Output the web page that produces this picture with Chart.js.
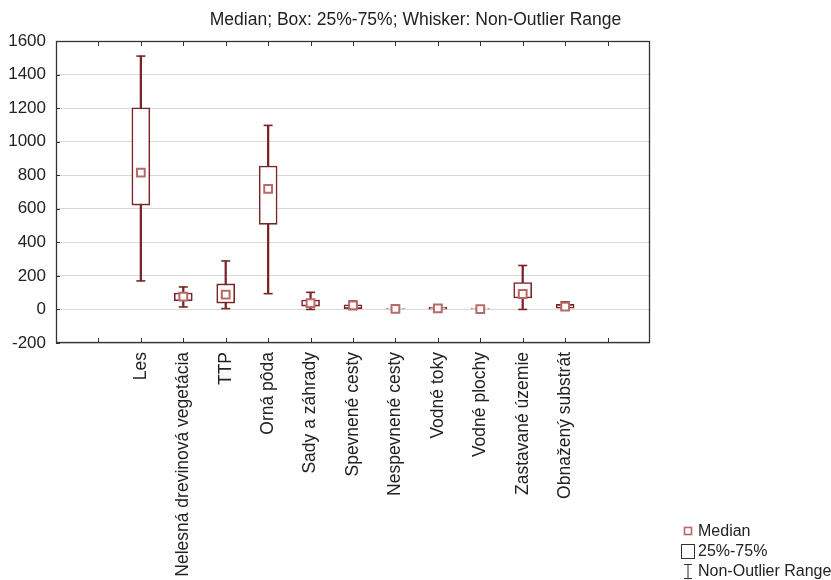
<!DOCTYPE html>
<html>
<head>
<meta charset="utf-8">
<script src="https://cdn.jsdelivr.net/npm/chart.js@4.4.1/dist/chart.umd.min.js"></script>
<style>
  html, body { margin: 0; padding: 0; background: #fff; }
  #wrap { position: relative; width: 831px; height: 580px; overflow: hidden; }
  #legend { position: absolute; left: 680px; top: 521px; font-family: 'Liberation Sans', Arial, sans-serif; font-size: 16px; color: #222; }
  .row { position: relative; height: 20px; line-height: 20px; padding-left: 18px; white-space: nowrap; }
  .ico { position: absolute; left: 0; top: 0; width: 16px; height: 20px; }
</style>
</head>
<body>
<div id="wrap">
  <canvas id="c" width="831" height="580"></canvas>
  <div id="legend">
    <div class="row"><svg class="ico" viewBox="0 0 16 20"><rect x="4.5" y="6.5" width="7" height="7" fill="#fff" stroke="#b86a6a" stroke-width="1.6"/></svg>Median</div>
    <div class="row"><svg class="ico" viewBox="0 0 16 20"><rect x="1.5" y="3.5" width="13" height="14" fill="#fff" stroke="#333" stroke-width="1"/></svg>25%-75%</div>
    <div class="row"><svg class="ico" viewBox="0 0 16 20"><path d="M4 3.5H12M8 3.5V17.5M4 17.5H12" fill="none" stroke="#333" stroke-width="1"/></svg>Non-Outlier Range</div>
  </div>
</div>
<script>
const titleText = 'Median; Box: 25%-75%; Whisker: Non-Outlier Range';
const categories = ['Les', 'Nelesná drevinová vegetácia', 'TTP', 'Orná pôda', 'Sady a záhrady',
  'Spevnené cesty', 'Nespevnené cesty', 'Vodné toky', 'Vodné plochy', 'Zastavané územie', 'Obnažený substrát'];
const medians   = [815, 76, 88, 718, 38, 24, 4, 7, 2, 92, 17];
const q1        = [622, 52, 38, 507, 20, 5, 0, 2, 0, 68, 7];
const q3        = [1202, 98, 152, 855, 56, 28, 5, 14, 5, 160, 30];
const whiskMin  = [170, 15, 5, 94, 0, 0, 0, 0, 0, 0, 0];
const whiskMax  = [1510, 134, 289, 1097, 102, 50, 10, 25, 8, 262, 45];
const yTicks    = { min: -200, max: 1600, step: 200 };

const pad = arr => [null, null, ...arr, null, null];
const labels = pad(categories).map(v => v === null ? '' : v);

const boxColor = '#7b2426';
const medColor = '#b86a6a';
const font = "'Liberation Sans', Arial, sans-serif";

const framePlugin = {
  id: 'frame',
  afterDraw(chart) {
    const { ctx, chartArea: a, scales: { x, y } } = chart;
    ctx.save();
    ctx.strokeStyle = '#333';
    ctx.lineWidth = 1;
    ctx.beginPath();
    for (let i = 1; i < labels.length - 1; i++) {
      const px = Math.round(x.getPixelForTick(i)) + 0.5;
      ctx.moveTo(px, a.top); ctx.lineTo(px, a.top + 5);
      ctx.moveTo(px, a.bottom); ctx.lineTo(px, a.bottom - 5);
    }
    y.ticks.forEach((t, i) => {
      const py = Math.round(y.getPixelForTick(i)) + 0.5;
      ctx.moveTo(a.left, py); ctx.lineTo(a.left + 4, py);
    });
    ctx.stroke();
    ctx.lineWidth = 1.3;
    ctx.strokeRect(Math.round(a.left) + 0.5, Math.round(a.top) + 0.5,
      Math.round(a.right - a.left) - 1, Math.round(a.bottom - a.top) - 1);
    ctx.restore();
  }
};

new Chart(document.getElementById('c'), {
  type: 'bar',
  data: {
    labels,
    datasets: [
      { label: 'Median', type: 'line', showLine: false, data: pad(medians),
        pointStyle: 'rect', pointRadius: 5.5, pointBorderWidth: 2,
        pointBorderColor: medColor, pointBackgroundColor: '#fff', order: 0 },
      { label: 'Max', type: 'line', showLine: false, data: pad(whiskMax),
        pointStyle: 'line', pointRadius: 4.5, pointBorderWidth: 1.6,
        pointBorderColor: boxColor, order: 1 },
      { label: 'Min', type: 'line', showLine: false, data: pad(whiskMin),
        pointStyle: 'line', pointRadius: 4.5, pointBorderWidth: 1.6,
        pointBorderColor: boxColor, order: 1 },
      { label: '25%-75%', data: pad(q1.map((v, i) => [v, q3[i]])),
        backgroundColor: '#fff', borderColor: boxColor, borderWidth: 1.6,
        borderSkipped: false, barThickness: 18, grouped: false, order: 2 },
      { label: 'Non-Outlier Range', data: pad(whiskMin.map((v, i) => [v, whiskMax[i]])),
        backgroundColor: boxColor, borderWidth: 0, barThickness: 1.6, grouped: false, order: 3 }
    ]
  },
  options: {
    responsive: false,
    animation: false,
    layout: { padding: { left: 0, right: 0, top: 0, bottom: 0 } },
    plugins: {
      legend: { display: false },
      tooltip: { enabled: false },
      title: { display: true, text: titleText, color: '#222',
        font: { family: font, size: 17.5, weight: 'normal', lineHeight: 1.2 },
        padding: { top: 10, bottom: 10 } }
    },
    scales: {
      x: {
        type: 'category', offset: false,
        grid: { display: false, drawTicks: false },
        border: { display: false },
        ticks: { autoSkip: false, minRotation: 90, maxRotation: 90, padding: 9,
          color: '#222', font: { family: font, size: 17.5 } },
        afterFit(s) { s.height = 237; }
      },
      y: {
        min: yTicks.min, max: yTicks.max,
        grid: { color: '#d8d8d8', lineWidth: 1, drawTicks: false },
        border: { display: false },
        ticks: { stepSize: yTicks.step, padding: 10, color: '#222',
          font: { family: font, size: 17 }, callback: v => String(v) },
        afterFit(s) { s.width = 56; }
      },
      y2: {
        position: 'right', min: 0, max: 1,
        grid: { display: false, drawTicks: false },
        border: { display: false },
        ticks: { display: false },
        afterFit(s) { s.width = 181; }
      }
    }
  },
  plugins: [framePlugin]
});
</script>
</body>
</html>
